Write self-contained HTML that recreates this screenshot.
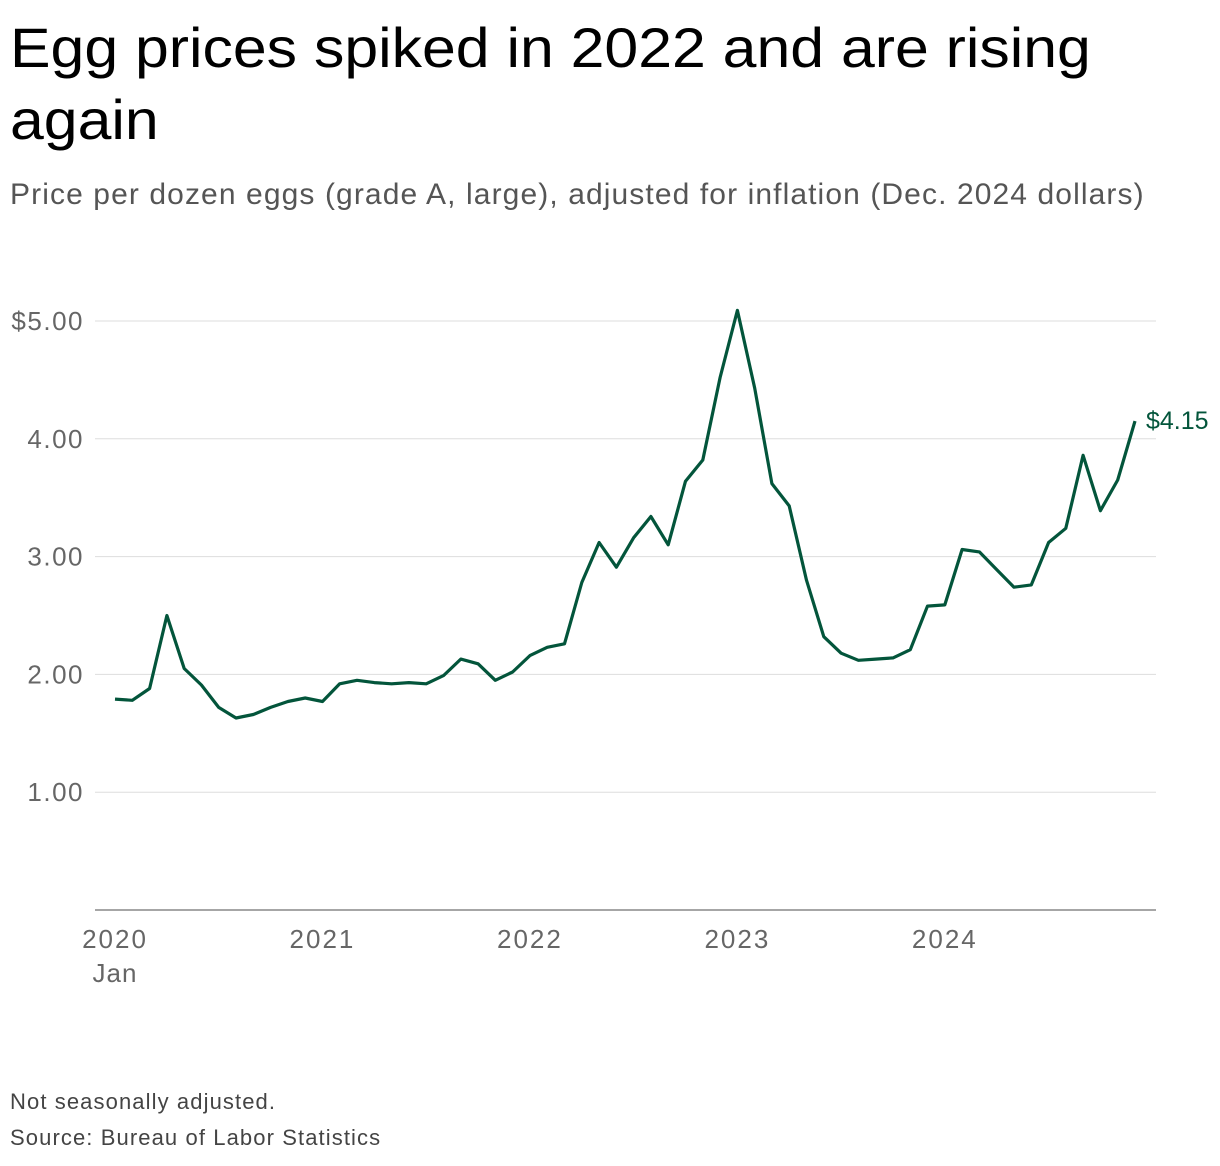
<!DOCTYPE html>
<html><head><meta charset="utf-8">
<style>
body{margin:0;width:1220px;height:1166px;background:#fff;font-family:"Liberation Sans",sans-serif;overflow:hidden;position:relative}
#title{position:absolute;left:10px;top:12px;font-size:56px;line-height:72px;color:#000;width:1000px;transform:scaleX(1.085);transform-origin:0 0;white-space:normal}
#subtitle{position:absolute;left:10px;top:178px;font-size:30px;letter-spacing:1.1px;color:#555;white-space:nowrap}
.note{position:absolute;left:10px;font-size:22px;letter-spacing:1.1px;color:#444;white-space:nowrap}
svg{position:absolute;left:0;top:0}
</style></head><body>
<div id="title">Egg prices spiked in 2022 and are rising again</div>
<div id="subtitle">Price per dozen eggs (grade A, large), adjusted for inflation (Dec. 2024 dollars)</div>
<svg id="chart" width="1220" height="1166"></svg>
<div class="note" style="top:1089px">Not seasonally adjusted.</div>
<div class="note" style="top:1125px">Source: Bureau of Labor Statistics</div>
<script>
const prices=[1.79,1.78,1.88,2.50,2.05,1.91,1.72,1.63,1.66,1.72,1.77,1.80,
1.77,1.92,1.95,1.93,1.92,1.93,1.92,1.99,2.13,2.09,1.95,2.02,
2.16,2.23,2.26,2.78,3.12,2.91,3.16,3.34,3.10,3.64,3.82,4.52,
5.09,4.43,3.62,3.43,2.80,2.32,2.18,2.12,2.13,2.14,2.21,2.58,
2.59,3.06,3.04,2.89,2.74,2.76,3.12,3.24,3.86,3.39,3.65,4.15];
const yTicks=[1,2,3,4,5];
const yTickLabels=["1.00","2.00","3.00","4.00","$5.00"];
const xTickMonths=[0,12,24,36,48];
const xTickLabels=["2020","2021","2022","2023","2024"];
const lastLabel="$4.15";
const NS="http://www.w3.org/2000/svg";
const svg=document.getElementById('chart');
const x=i=>115+i*(1135-115)/59;
const y=v=>910-v*117.8;
function mk(t,a){const e=document.createElementNS(NS,t);for(const k in a)e.setAttribute(k,a[k]);svg.appendChild(e);return e;}
yTicks.forEach((v,i)=>{
 const g=mk('line',{x1:95,x2:1156,y1:y(v),y2:y(v),stroke:'#ddd','stroke-width':1});
 
 
 const t=mk('text',{x:84,y:y(v)+9,'text-anchor':'end','font-size':26,'letter-spacing':1.5,fill:'#666','font-family':'Liberation Sans, sans-serif'});
 t.textContent=yTickLabels[i];
 
 
});
const ax=mk('line',{x1:95,x2:1156,y1:910,y2:910,stroke:'#888','stroke-width':1.5});


xTickMonths.forEach((m,i)=>{
 const t=mk('text',{x:x(m),y:948,'text-anchor':'middle','font-size':26,'letter-spacing':2,fill:'#666','font-family':'Liberation Sans, sans-serif'});
 t.textContent=xTickLabels[i];
 
 
});
const jan=mk('text',{x:x(0),y:982,'text-anchor':'middle','font-size':26,'letter-spacing':1,fill:'#666','font-family':'Liberation Sans, sans-serif'});
jan.textContent="Jan";


const d=prices.map((v,i)=>(i?'L':'M')+x(i).toFixed(1)+','+y(v).toFixed(1)).join('');
const p=mk('path',{d:d,fill:'none',stroke:'#03553b','stroke-width':3.2,'stroke-linejoin':'round'});


const lv=prices[prices.length-1];
const ll=mk('text',{x:x(prices.length-1)+11,y:y(lv)+8,'font-size':25,fill:'#03553b','font-family':'Liberation Sans, sans-serif'});
ll.textContent=lastLabel;


</script>
</body></html>
